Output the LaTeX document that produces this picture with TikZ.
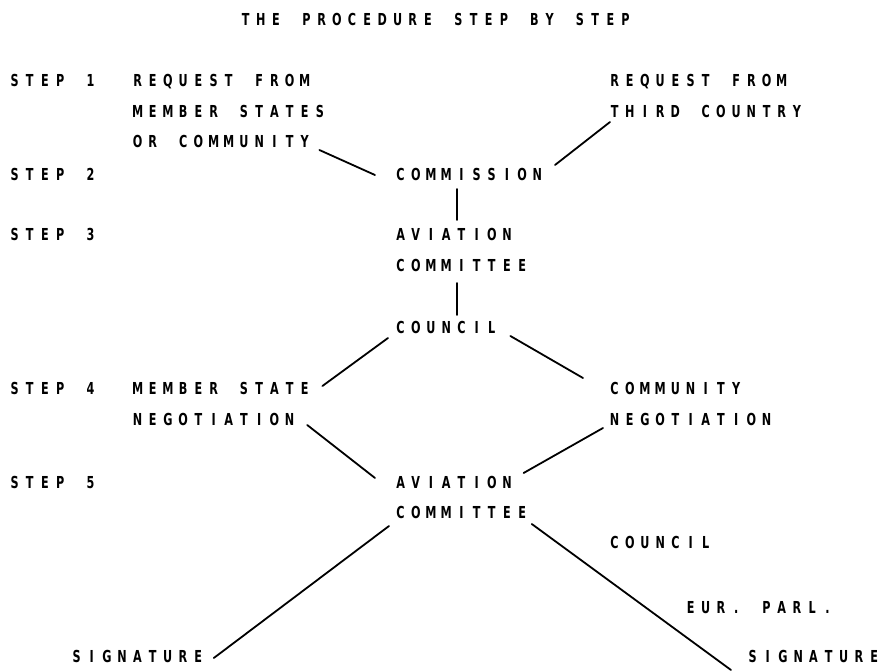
\documentclass[tikz,border=0pt]{standalone}
\usepackage{fontspec}
\newfontfamily\plotfont[FakeStretch=0.68]{DejaVu Sans Bold}
\ExplSyntaxOn
\dim_new:N \l_my_pitch_dim
\dim_set:Nn \l_my_pitch_dim {15.2pt}
\NewDocumentCommand \pltext { m }
  {
    \seq_set_split:Nnn \l_tmpa_seq { ~ } { #1 }
    \seq_map_indexed_inline:Nn \l_tmpa_seq
      {
        \int_compare:nNnT { ##1 } > { 1 } { \hbox_to_wd:nn { \l_my_pitch_dim } { } }
        \tl_map_inline:nn { ##2 } { \hbox_to_wd:nn { \l_my_pitch_dim } { \hss ####1 \hss } }
      }
  }
\ExplSyntaxOff
\tikzset{
  lbl/.style={anchor=west, inner sep=0pt, outer sep=0pt, text height=12pt, text depth=0pt,
    font=\plotfont\fontsize{16.5pt}{16.5pt}\selectfont},
  conn/.style={line width=1.8pt, line cap=round}
}
\begin{document}
\begin{tikzpicture}[x=1pt,y=-1pt]
\useasboundingbox (0,0) rectangle (889,672);
% title
\node[lbl] (title) at (238,19) {\pltext{THE PROCEDURE STEP BY STEP}};
% steps
\node[lbl] (s1) at (7,80) {\pltext{STEP 1}};
\node[lbl] (s2) at (7,174) {\pltext{STEP 2}};
\node[lbl] (s3) at (7,234) {\pltext{STEP 3}};
\node[lbl] (s4) at (7,388) {\pltext{STEP 4}};
\node[lbl] (s5) at (7,482) {\pltext{STEP 5}};
% step 1
\node[lbl] (reqa) at (130,80) {\pltext{REQUEST FROM}};
\node[lbl] (memst) at (130,111) {\pltext{MEMBER STATES}};
\node[lbl] (orcomm) at (130,141) {\pltext{OR COMMUNITY}};
\node[lbl] (reqb) at (607,80) {\pltext{REQUEST FROM}};
\node[lbl] (third) at (607,111) {\pltext{THIRD COUNTRY}};
% step 2
\node[lbl] (commission) at (393,174) {\pltext{COMMISSION}};
% step 3
\node[lbl] (avia) at (393,234) {\pltext{AVIATION}};
\node[lbl] (commit) at (393,265) {\pltext{COMMITTEE}};
\node[lbl] (council) at (393,327) {\pltext{COUNCIL}};
% step 4
\node[lbl] (msneg) at (130,388) {\pltext{MEMBER STATE}};
\node[lbl] (negl) at (130,419) {\pltext{NEGOTIATION}};
\node[lbl] (community) at (607,388) {\pltext{COMMUNITY}};
\node[lbl] (negr) at (607,419) {\pltext{NEGOTIATION}};
% step 5
\node[lbl] (aviab) at (393,482) {\pltext{AVIATION}};
\node[lbl] (commitb) at (393,512) {\pltext{COMMITTEE}};
\node[lbl] (councilb) at (607,542) {\pltext{COUNCIL}};
\node[lbl] (eurparl) at (683,607) {\pltext{EUR. PARL.}};
\node[lbl] (signl) at (69,656) {\pltext{SIGNATURE}};
\node[lbl] (signr) at (745,656) {\pltext{SIGNATURE}};
% connectors
\draw[conn] ([shift={(7,9)}]orcomm.east) -- ([shift={(-18,1)}]commission.west);
\draw[conn] ([shift={(3,11)}]third.west) -- ([shift={(10,-9)}]commission.east);
\draw[conn] ([shift={(64,9)}]commission.south west) -- ([shift={(64,-8)}]avia.north west);
\draw[conn] ([shift={(64,12)}]commit.south west) -- ([shift={(64,-6)}]council.north west);
\draw[conn] ([shift={(-5,5)}]council.south west) -- ([shift={(10,-2)}]msneg.east);
\draw[conn] ([shift={(11,3)}]council.south east) -- ([shift={(-24,-4)}]community.north west);
\draw[conn] ([shift={(10,6)}]negl.east) -- ([shift={(-18,-4)}]aviab.west);
\draw[conn] ([shift={(-4,9)}]negr.west) -- ([shift={(9,-9)}]aviab.east);
\draw[conn] ([shift={(-4,8)}]commitb.south west) -- ([shift={(8,2)}]signl.east);
\draw[conn] ([shift={(2,6)}]commitb.south east) -- ([shift={(-14,14)}]signr.west);
\end{tikzpicture}
\end{document}
